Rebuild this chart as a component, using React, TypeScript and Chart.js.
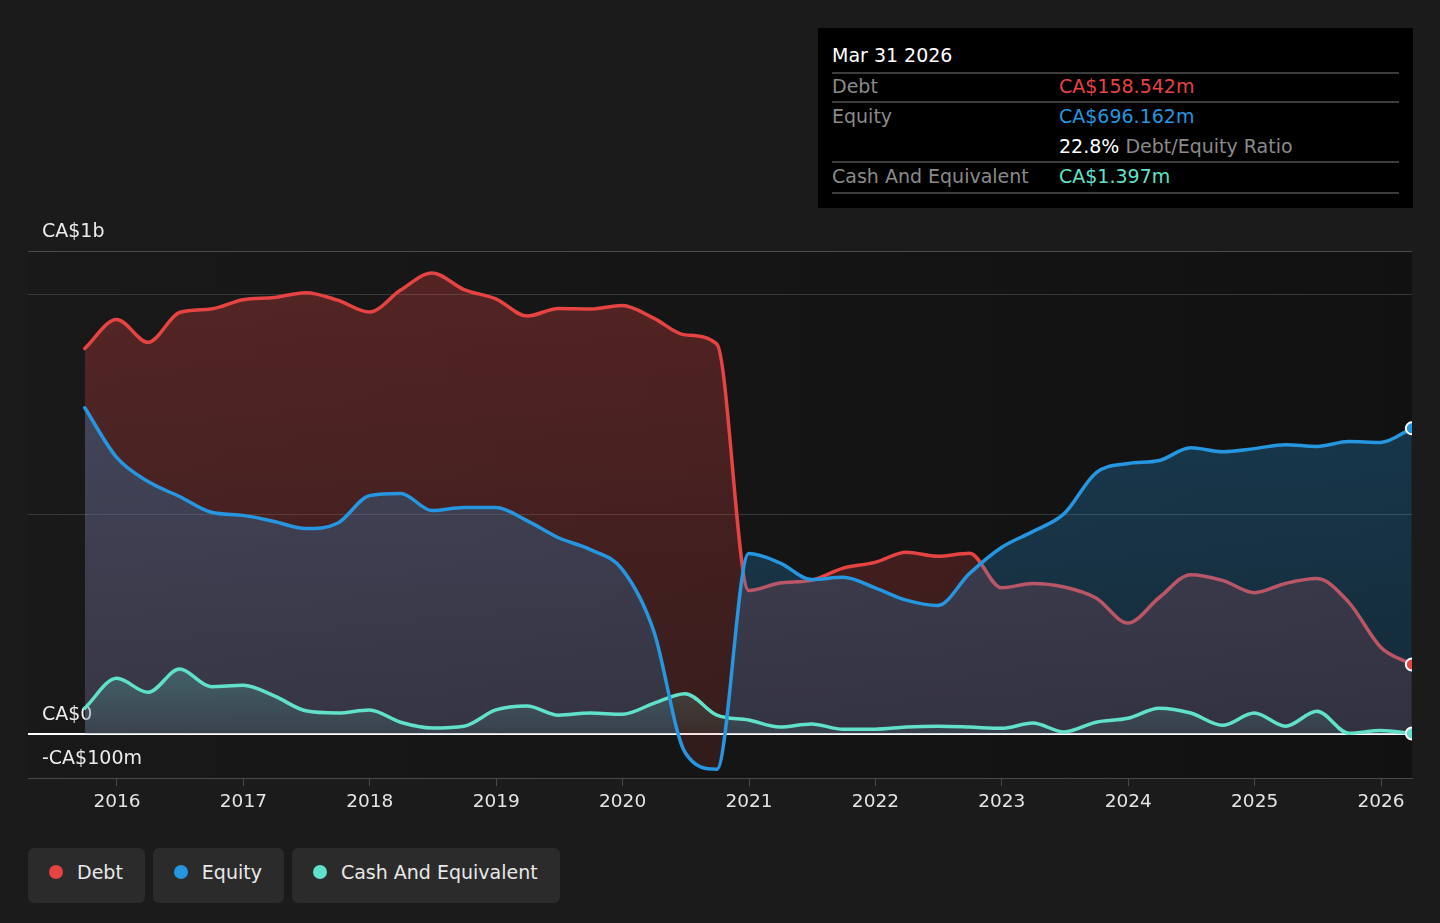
import React, { useEffect, useRef } from 'react';
import { Chart, registerables } from 'chart.js';

Chart.register(...registerables);

// ---------- data ----------
const quarterEnds = [
  '2015-09-30', '2015-12-31',
  '2016-03-31', '2016-06-30', '2016-09-30', '2016-12-31',
  '2017-03-31', '2017-06-30', '2017-09-30', '2017-12-31',
  '2018-03-31', '2018-06-30', '2018-09-30', '2018-12-31',
  '2019-03-31', '2019-06-30', '2019-09-30', '2019-12-31',
  '2020-03-31', '2020-06-30', '2020-09-30', '2020-12-31',
  '2021-03-31', '2021-06-30', '2021-09-30', '2021-12-31',
  '2022-03-31', '2022-06-30', '2022-09-30', '2022-12-31',
  '2023-03-31', '2023-06-30', '2023-09-30', '2023-12-31',
  '2024-03-31', '2024-06-30', '2024-09-30', '2024-12-31',
  '2025-03-31', '2025-06-30', '2025-09-30', '2025-12-31',
  '2026-03-31',
];

// CA$ millions
const debt = [
  878, 944, 892, 960, 968, 989, 994, 1005, 988, 961, 1011, 1050, 1012, 991,
  952, 969, 968, 976, 947, 909, 888, 327, 344, 350, 378, 391, 414, 405, 412,
  333, 343, 335, 310, 253, 311, 363, 350, 322, 343, 354, 300, 198, 158.542,
];

const equity = [
  743, 630, 575, 541, 505, 498, 484, 468, 480, 543, 548, 509, 516, 516, 486,
  447, 420, 375, 235, -42, -80, 411, 390, 352, 357, 333, 305, 293, 366, 425,
  461, 502, 595, 616, 623, 652, 643, 650, 659, 655, 666, 664, 696.162,
];

const cash = [
  59, 127, 95, 148, 108, 111, 87, 53, 48, 55, 27, 14, 18, 55, 64, 43, 48, 45,
  70, 92, 43, 32, 16, 23, 11, 11, 16, 18, 16, 13, 25, 5, 27, 36, 59, 48, 20,
  48, 18, 52, 2, 8, 1.397,
];

const xTickYears = [2016, 2017, 2018, 2019, 2020, 2021, 2022, 2023, 2024, 2025, 2026];
const yTickValues = [-100, 0, 500, 1000, 1100];
const yTickLabels = ['-CA$100m', 'CA$0', '', '', 'CA$1b'];

const seriesNames = ['Debt', 'Equity', 'Cash And Equivalent'];
const tooltipDate = 'Mar 31 2026';
const tooltipDebt = 'CA$158.542m';
const tooltipEquity = 'CA$696.162m';
const tooltipRatio = '22.8%';
const tooltipRatioLabel = 'Debt/Equity Ratio';
const tooltipCash = 'CA$1.397m';

// ---------- styles ----------
const FONT = '"DejaVu Sans", "Noto Sans", sans-serif';
const DEBT_RGB = '230,67,67';
const EQUITY_RGB = '37,150,223';
const CASH_RGB = '97,225,201';
const debtColor = `rgb(${DEBT_RGB})`;
const equityColor = `rgb(${EQUITY_RGB})`;
const cashColor = `rgb(${CASH_RGB})`;
const seriesColors = [debtColor, equityColor, cashColor];
const LINE_W = 3.5;

const X_MIN = 2015.296;
const X_MAX = 2026.245;

function toYear(d: string) {
  const [y, m, day] = d.split('-').map(Number);
  const start = Date.UTC(y, 0, 1);
  const end = Date.UTC(y + 1, 0, 1);
  return y + (Date.UTC(y, m - 1, day) - start) / (end - start);
}

const toPoints = (arr: number[]) => arr.map((v, i) => ({ x: toYear(quarterEnds[i]), y: v }));

function vGrad(chart: any, rgb: string, aTop: number, aZero: number, topValue?: number) {
  const { ctx, chartArea, scales } = chart;
  if (!chartArea || !scales || !scales.y) return `rgba(${rgb},${aZero})`;
  const yTop = topValue === undefined ? chartArea.top : scales.y.getPixelForValue(topValue);
  const yZero = scales.y.getPixelForValue(0);
  const g = ctx.createLinearGradient(0, yTop, 0, yZero);
  g.addColorStop(0, `rgba(${rgb},${aTop})`);
  g.addColorStop(1, `rgba(${rgb},${aZero})`);
  return g;
}

const plotBg = {
  id: 'plotBg',
  beforeDraw(chart: any) {
    const { ctx, chartArea: a } = chart;
    if (!a) return;
    const g = ctx.createLinearGradient(a.left, 0, a.right, 0);
    g.addColorStop(0, '#191919');
    g.addColorStop(1, '#111111');
    ctx.save();
    ctx.fillStyle = g;
    ctx.fillRect(a.left, a.top, a.right - a.left, a.bottom - a.top);
    ctx.restore();
  },
};

function DebtEquityChart() {
  const ref = useRef<HTMLCanvasElement | null>(null);

  useEffect(() => {
    if (!ref.current) return;
    const last = quarterEnds.length - 1;
    const lastOnly = (ctx: any) => (ctx.dataIndex === last ? 6 : 0);

    const chart = new Chart(ref.current, {
      type: 'line',
      data: {
        datasets: [
          {
            label: 'Debt marker',
            data: toPoints(debt),
            showLine: false,
            fill: false,
            pointRadius: lastOnly,
            pointBackgroundColor: debtColor,
            pointBorderColor: '#ffffff',
            pointBorderWidth: 2,
            order: 0,
          },
          {
            label: 'Equity',
            data: toPoints(equity),
            borderColor: equityColor,
            borderWidth: LINE_W,
            fill: false,
            pointRadius: lastOnly,
            pointBackgroundColor: equityColor,
            pointBorderColor: '#ffffff',
            pointBorderWidth: 2,
            order: 1,
          },
          {
            label: 'Cash And Equivalent',
            data: toPoints(cash),
            borderColor: cashColor,
            borderWidth: LINE_W,
            fill: 'origin',
            backgroundColor: (c: any) => vGrad(c.chart, CASH_RGB, 0.24, 0.07, 150),
            pointRadius: lastOnly,
            pointBackgroundColor: cashColor,
            pointBorderColor: '#ffffff',
            pointBorderWidth: 2,
            order: 2,
          },
          {
            label: 'Equity area',
            data: toPoints(equity),
            borderColor: 'rgba(0,0,0,0)',
            borderWidth: 0,
            fill: { target: 'origin', below: `rgba(${DEBT_RGB},0.14)` },
            backgroundColor: (c: any) => vGrad(c.chart, EQUITY_RGB, 0.33, 0.19),
            pointRadius: 0,
            order: 3,
          },
          {
            label: 'Debt',
            data: toPoints(debt),
            borderColor: debtColor,
            borderWidth: LINE_W,
            fill: 'origin',
            backgroundColor: (c: any) => vGrad(c.chart, DEBT_RGB, 0.3, 0.17),
            pointRadius: 0,
            order: 4,
          },
        ],
      },
      options: {
        responsive: false,
        animation: false,
        events: [],
        layout: { padding: { left: 28, right: 28, top: 251, bottom: 105 } },
        elements: {
          line: {
            cubicInterpolationMode: 'monotone',
            borderCapStyle: 'round',
            borderJoinStyle: 'round',
          },
          point: { hoverRadius: 0 },
        },
        plugins: {
          legend: { display: false },
          tooltip: { enabled: false },
        },
        scales: {
          x: {
            type: 'linear',
            min: X_MIN,
            max: X_MAX,
            afterBuildTicks: (s: any) => {
              s.ticks = xTickYears.map((v) => ({ value: v }));
            },
            afterFit: (s: any) => {
              s.height = 40;
            },
            ticks: {
              callback: (v: any) => String(v),
              color: '#e4e4e4',
              font: { family: FONT, size: 18.5 },
              padding: 5,
              maxRotation: 0,
              autoSkip: false,
            },
            grid: {
              drawOnChartArea: false,
              drawTicks: true,
              tickLength: 8,
              color: '#4a4a4a',
            },
            border: { display: true, color: '#4a4a4a', width: 1 },
          },
          y: {
            type: 'linear',
            min: -100,
            max: 1100,
            afterBuildTicks: (s: any) => {
              s.ticks = yTickValues.map((v) => ({ value: v }));
            },
            afterFit: (s: any) => {
              s.width = 0;
            },
            ticks: {
              mirror: true,
              padding: 14,
              labelOffset: -19,
              color: '#ececec',
              font: { family: FONT, size: 19 },
              callback: (v: any) => {
                const i = yTickValues.indexOf(Number(v));
                return i >= 0 ? yTickLabels[i] : '';
              },
            },
            grid: {
              drawTicks: false,
              color: (c: any) => {
                const v = c.tick ? c.tick.value : null;
                if (v === 0) return '#ffffff';
                if (v === 1100) return '#4a4a4a';
                return '#383838';
              },
              lineWidth: (c: any) => (c.tick && c.tick.value === 0 ? 2 : 1),
            },
            border: { display: false },
          },
        },
      } as any,
      plugins: [plotBg],
    });
    return () => chart.destroy();
  }, []);

  return (
    <canvas
      ref={ref}
      width={1440}
      height={923}
      style={{ position: 'absolute', left: 0, top: 0, width: 1440, height: 923 }}
    />
  );
}

function Row({ top, children }: { top: number; children: React.ReactNode }) {
  return (
    <div style={{ position: 'absolute', left: 14, top, height: 24, lineHeight: '24px', width: 570 }}>
      {children}
    </div>
  );
}

function Sep({ top }: { top: number }) {
  return <div style={{ position: 'absolute', left: 14, top, width: 567, height: 2, background: '#3c3c3c' }} />;
}

function TooltipBox() {
  const label: React.CSSProperties = { position: 'absolute', left: 0, color: '#8a8a8a' };
  const value: React.CSSProperties = { position: 'absolute', left: 227 };
  return (
    <div
      style={{
        position: 'absolute',
        left: 818,
        top: 28,
        width: 595,
        height: 180,
        background: '#000000',
        fontFamily: FONT,
        fontSize: 19,
        whiteSpace: 'nowrap',
      }}
    >
      <Row top={15}>
        <span style={{ color: '#ffffff' }}>{tooltipDate}</span>
      </Row>
      <Sep top={44} />
      <Row top={46}>
        <span style={label}>{seriesNames[0]}</span>
        <span style={{ ...value, color: debtColor }}>{tooltipDebt}</span>
      </Row>
      <Sep top={73} />
      <Row top={76}>
        <span style={label}>{seriesNames[1]}</span>
        <span style={{ ...value, color: equityColor }}>{tooltipEquity}</span>
      </Row>
      <Row top={106}>
        <span style={value}>
          <span style={{ color: '#ffffff' }}>{tooltipRatio}</span>
          <span style={{ color: '#8a8a8a' }}> {tooltipRatioLabel}</span>
        </span>
      </Row>
      <Sep top={133} />
      <Row top={136}>
        <span style={label}>{seriesNames[2]}</span>
        <span style={{ ...value, color: cashColor }}>{tooltipCash}</span>
      </Row>
      <Sep top={164} />
    </div>
  );
}

function Legend() {
  return (
    <div
      style={{
        position: 'absolute',
        left: 28,
        top: 848,
        display: 'flex',
        gap: 8,
        fontFamily: FONT,
        fontSize: 19,
      }}
    >
      {seriesNames.map((name, i) => (
        <div
          key={name}
          style={{
            height: 55,
            boxSizing: 'border-box',
            display: 'flex',
            alignItems: 'center',
            padding: '0 22px 7px 21px',
            background: '#2b2b2b',
            borderRadius: 6,
            color: '#e8e8e8',
            whiteSpace: 'nowrap',
          }}
        >
          <span
            style={{
              width: 14,
              height: 14,
              borderRadius: 7,
              background: seriesColors[i],
              marginRight: 14,
              display: 'inline-block',
            }}
          />
          <span>{name}</span>
        </div>
      ))}
    </div>
  );
}

export default function App() {
  return (
    <div
      style={{
        position: 'absolute',
        left: 0,
        top: 0,
        width: 1440,
        height: 923,
        background: '#1b1b1b',
        overflow: 'hidden',
      }}
    >
      <DebtEquityChart />
      <TooltipBox />
      <Legend />
    </div>
  );
}
